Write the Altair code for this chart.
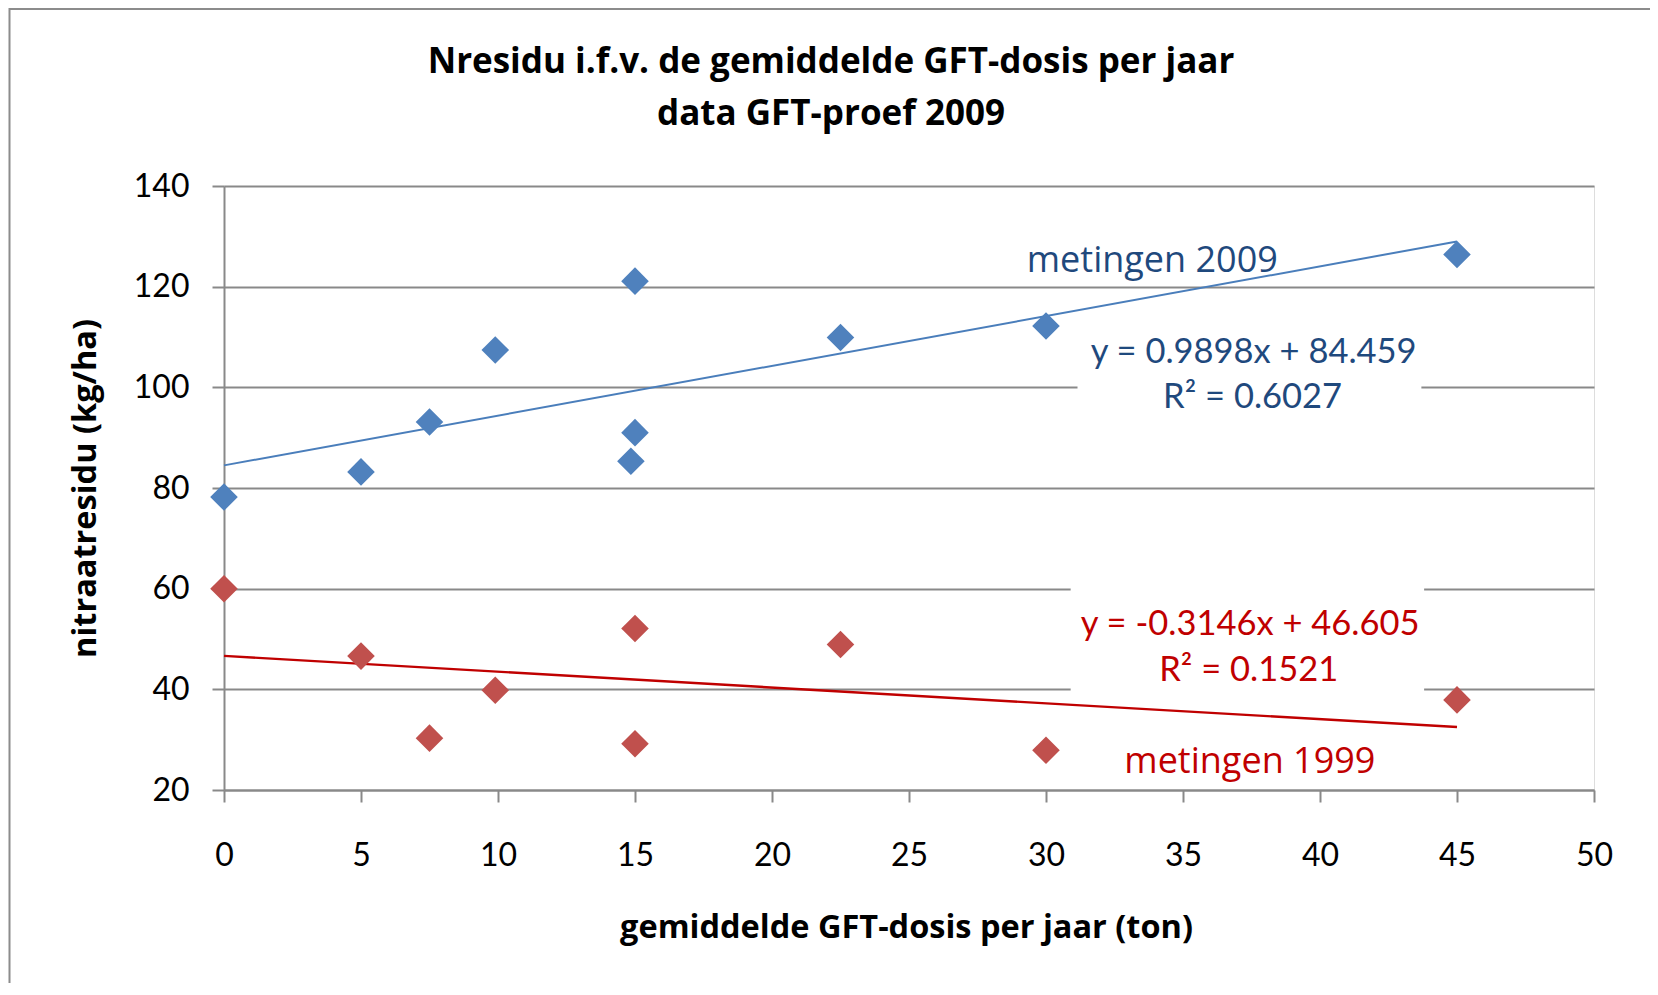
import altair as alt
import pandas as pd

# --- data ---
x_2009 = [0, 5, 7.5, 9.9, 15, 15, 14.85, 22.5, 30, 45]
y_2009 = [78.2, 83.2, 93.1, 107.4, 121.1, 91.0, 85.3, 109.9, 112.2, 126.4]
x_1999 = [0, 5, 7.5, 9.9, 15, 15, 22.5, 30, 45]
y_1999 = [60.0, 46.6, 30.3, 39.8, 52.1, 29.2, 48.9, 27.9, 37.9]

series_names = ["metingen 2009", "metingen 1999"]
marker_colors = ["#4F81BD", "#C0504D"]
line_colors = ["#4A7EBB", "#C00000"]

x_ticks = [0, 5, 10, 15, 20, 25, 30, 35, 40, 45, 50]
y_ticks = [20, 40, 60, 80, 100, 120, 140]

# trendline equations
eq_texts = ["y = 0.9898x + 84.459", "R² = 0.6027", "y = -0.3146x + 46.605", "R² = 0.1521"]
eq_x = [37.58, 37.54, 37.45, 37.40]
eq_y = [104.77, 95.83, 50.79, 41.71]
eq_colors = ["#1F497D", "#1F497D", "#C00000", "#C00000"]

# series labels
name_x = [33.88, 37.44]
name_y = [123.0, 23.34]
name_colors = ["#1F497D", "#C00000"]

# white backgrounds behind the trendline equation labels
box_x1 = [31.15, 30.9]
box_x2 = [43.7, 43.8]
box_y1 = [97, 38]
box_y2 = [103, 62]

FONT = "Lato"
TFONT = "Open Sans"
GRAY = "#898989"

df = pd.DataFrame({
    "dosis": x_2009 + x_1999,
    "residu": y_2009 + y_1999,
    "reeks": [series_names[0]] * len(x_2009) + [series_names[1]] * len(x_1999),
})
eqs = pd.DataFrame({"t": eq_texts, "x": eq_x, "y": eq_y, "c": eq_colors})
names = pd.DataFrame({"t": series_names, "x": name_x, "y": name_y, "c": name_colors})
boxes = pd.DataFrame({"x1": box_x1, "x2": box_x2, "y1": box_y1, "y2": box_y2})

xscale = alt.Scale(domain=[0, 50], nice=False, zero=False)
yscale = alt.Scale(domain=[20, 140], nice=False, zero=False)

xaxis = alt.Axis(values=x_ticks, grid=False, tickSize=12, tickColor=GRAY, tickWidth=2,
                 domainColor=GRAY, domainWidth=2, labelFont=FONT, labelFontSize=32,
                 labelColor="black", labelPadding=38, labelFlush=False,
                 title="gemiddelde GFT-dosis per jaar (ton)", titleFont=TFONT,
                 titleFontSize=32.5, titleFontWeight="bold", titleColor="black",
                 titleX=682, titleY=147, titleAlign="center", titleBaseline="alphabetic")
yaxis = alt.Axis(values=y_ticks, grid=True, gridColor=GRAY, gridWidth=1.8,
                 tickSize=12, tickColor=GRAY, tickWidth=2,
                 domainColor=GRAY, domainWidth=2, labelFont=FONT, labelFontSize=32,
                 labelColor="black", labelPadding=23, labelFlush=False,
                 title="nitraatresidu (kg/ha)", titleFont=TFONT, titleFontSize=32.5,
                 titleFontWeight="bold", titleColor="black", titleAngle=-90,
                 titleX=-139, titleY=302, titleAlign="center", titleBaseline="middle")

box_layer = alt.Chart(boxes).mark_rect(color="white").encode(
    x=alt.X("x1:Q", scale=xscale, axis=xaxis),
    x2="x2:Q",
    y=alt.Y("y1:Q", scale=yscale, axis=yaxis),
    y2="y2:Q",
)

trend_layers = []
for name, col, w in zip(series_names, line_colors, [2, 2.4]):
    trend_layers.append(
        alt.Chart(df).transform_filter(alt.datum.reeks == name)
        .transform_regression("dosis", "residu", extent=[0, 45])
        .mark_line(color=col, strokeWidth=w)
        .encode(x=alt.X("dosis:Q", scale=xscale), y=alt.Y("residu:Q", scale=yscale))
    )

points = alt.Chart(df).mark_point(shape="diamond", filled=True, size=760, opacity=1).encode(
    x=alt.X("dosis:Q", scale=xscale),
    y=alt.Y("residu:Q", scale=yscale),
    color=alt.Color("reeks:N", scale=alt.Scale(domain=series_names, range=marker_colors),
                    legend=None),
)

eq_layer = alt.Chart(eqs).mark_text(font=FONT, fontSize=34.5, align="center",
                                    baseline="alphabetic").encode(
    x=alt.X("x:Q", scale=xscale),
    y=alt.Y("y:Q", scale=yscale),
    text="t:N",
    color=alt.Color("c:N", scale=None),
)

name_layer = alt.Chart(names).mark_text(font=TFONT, fontSize=36, align="center",
                                        baseline="alphabetic").encode(
    x=alt.X("x:Q", scale=xscale),
    y=alt.Y("y:Q", scale=yscale),
    text="t:N",
    color=alt.Color("c:N", scale=None),
)

frame = alt.Chart(pd.DataFrame({"k": [0]})).mark_rect(
    fillOpacity=0, stroke="#8c8c8c", strokeWidth=2
).encode(x=alt.value(-214.5), x2=alt.value(1480), y=alt.value(-177), y2=alt.value(830))

chart = alt.layer(box_layer, *trend_layers, points, eq_layer, name_layer, frame).properties(
    width=1370, height=604,
    autosize=alt.AutoSizeParams(type="none"),
    padding={"left": 216, "top": 178, "right": 56, "bottom": 193},
    title=alt.Title(["Nresidu i.f.v. de gemiddelde GFT-dosis per jaar", "data GFT-proef 2009"],
                    font=TFONT, fontSize=35, fontWeight="bold", color="black",
                    anchor="middle", frame="group", dx=-78, lineHeight=52,
                    baseline="bottom", offset=-159),
).configure_view(strokeWidth=0).configure(background="white")

chart.save("out.html", embed_options={"renderer": "svg", "actions": False})
